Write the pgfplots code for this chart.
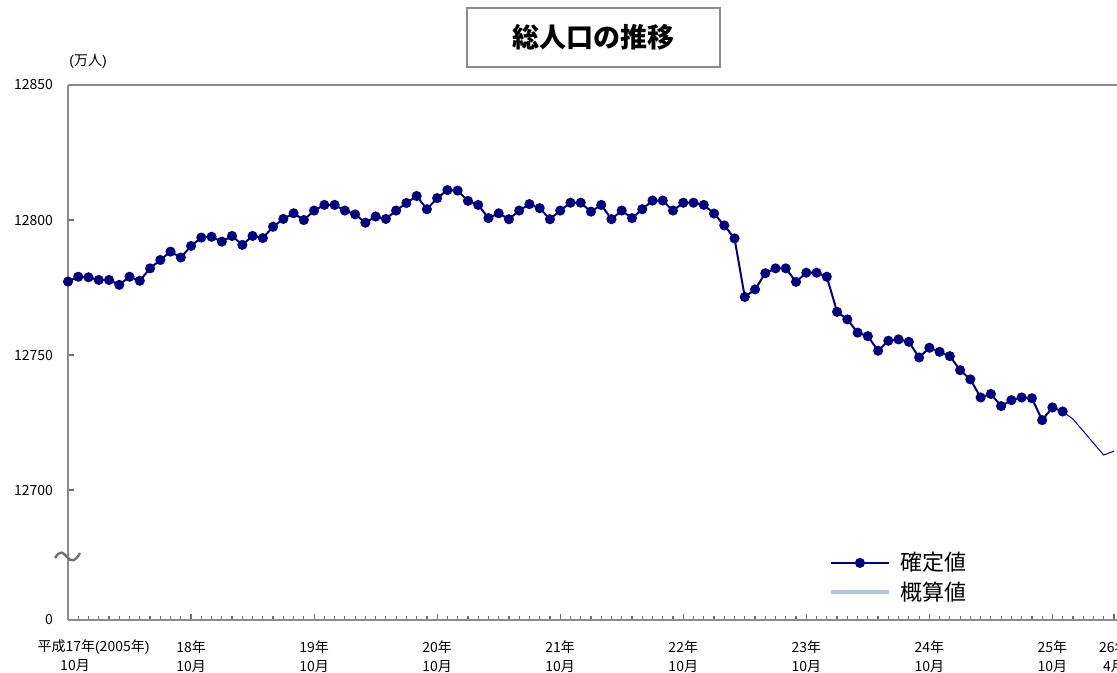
\documentclass[border=0pt]{standalone}
\usepackage{fontspec}
\setmainfont{Noto Sans CJK JP}
\newfontfamily\lib{Liberation Sans}
\usepackage{pgfplots}
\pgfplotsset{compat=1.18}
\definecolor{navyc}{RGB}{0,0,128}
\definecolor{axgray}{RGB}{140,140,140}
\definecolor{lsteel}{RGB}{180,198,220}
\pgfplotstableread{
idx val
0 12777.2
1 12779.0
2 12778.8
3 12777.8
4 12777.8
5 12776.0
6 12779.0
7 12777.5
8 12782.1
9 12785.2
10 12788.3
11 12786.1
12 12790.4
13 12793.5
14 12793.8
15 12792.0
16 12794.1
17 12790.8
18 12794.1
19 12793.3
20 12797.5
21 12800.4
22 12802.5
23 12800.0
24 12803.5
25 12805.6
26 12805.6
27 12803.5
28 12802.1
29 12799.0
30 12801.3
31 12800.4
32 12803.5
33 12806.3
34 12808.9
35 12804.0
36 12808.1
37 12811.1
38 12810.9
39 12807.1
40 12805.6
41 12800.7
42 12802.5
43 12800.3
44 12803.5
45 12805.9
46 12804.4
47 12800.3
48 12803.5
49 12806.4
50 12806.4
51 12803.1
52 12805.6
53 12800.3
54 12803.5
55 12800.7
56 12804.0
57 12807.2
58 12807.2
59 12803.5
60 12806.4
61 12806.4
62 12805.6
63 12802.4
64 12798.0
65 12793.2
66 12771.5
67 12774.3
68 12780.3
69 12782.1
70 12782.1
71 12777.1
72 12780.5
73 12780.5
74 12779.0
75 12766.0
76 12763.2
77 12758.3
78 12757.0
79 12751.6
80 12755.3
81 12755.8
82 12754.9
83 12749.1
84 12752.7
85 12751.2
86 12749.6
87 12744.4
88 12741.0
89 12734.3
90 12735.6
91 12731.1
92 12733.3
93 12734.3
94 12734.0
95 12725.9
96 12730.6
97 12729.1
}\confirmed
\pgfplotstableread{
idx val
97 12729.1
98 12726.3
99 12721.9
100 12717.4
101 12713.0
102 12714.4
}\estimated
\begin{document}
\begin{tikzpicture}[x=1pt,y=1pt]
\useasboundingbox (0,0) rectangle (558.5,336.5);
\begin{axis}[
  at={(34pt,26.5pt)}, anchor=south west,
  scale only axis, width=524.5pt, height=267.5pt,
  xmin=0, xmax=102.3, ymin=12651.9, ymax=12850,
  axis x line*=bottom, axis y line*=left,
  axis line style={axgray, line width=1pt, -},
  tick align=inside,
  tick style={axgray!80!black, line width=0.6pt},
  major tick length=3pt, minor tick length=2pt,
  scaled x ticks=false, scaled y ticks=false,
  xtick={12,24,36,48,60,72,84,96,102},
  xticklabels={{18年\\10月},{19年\\10月},{20年\\10月},{21年\\10月},{22年\\10月},{23年\\10月},{24年\\10月},{25年\\10月},{26年\\4月}},
  minor xtick={0,...,102},
  xticklabel style={align=center, font=\fontsize{7}{9.5}\selectfont, yshift=-7pt},
  ytick={12651.9,12700,12750,12800,12850},
  yticklabels={0,12700,12750,12800,12850},
  yticklabel style={font=\fontsize{7}{8}\selectfont, xshift=-4pt},
  /pgf/number format/assume math mode=true,
  clip=false,
  legend style={at={(0.725,0.135)}, anchor=north west, draw=none, fill=none,
    font=\fontsize{11}{12}\selectfont, row sep=0pt, inner sep=0pt,
    nodes={inner sep=2pt}},
  legend cell align=left,
  legend image code/.code={\draw[mark repeat=2,mark phase=2,#1] plot coordinates {(0pt,0pt) (14.5pt,0pt) (29pt,0pt)};},
]
\addplot[navyc, line width=0.5pt, forget plot] table[x=idx,y=val] {\estimated};
\addplot[navyc, line width=1pt, mark=*, mark size=2pt, mark options={solid,fill=navyc}] table[x=idx,y=val] {\confirmed};
\addlegendentry{\hspace{3pt}確定値}
\addlegendimage{lsteel, line width=2pt}
\addlegendentry{\hspace{3pt}概算値}
\draw[axgray, line width=1pt] (rel axis cs:0,1) -- (rel axis cs:1.05,1);
\end{axis}
\draw[axgray!80!black, line width=1.2pt] (27.5,57.5) .. controls (30,61.5) and (31.5,60.5) .. (33.5,58) .. controls (35.5,55.5) and (37.5,55.5) .. (40,60);
\node[draw=axgray, line width=1pt, minimum width=126.5pt, minimum height=29.5pt, font=\fontsize{13.5}{14}\selectfont\bfseries] at (296.75,317.75) {総人口の推移};
\node[font=\fontsize{7}{8}\selectfont] at (44,306) {{\lib(}万人{\lib)}};
\node[font=\fontsize{7}{9.5}\selectfont] at (46.75,13) {平成17年{\lib(}2005年{\lib)}};
\node[font=\fontsize{7}{9.5}\selectfont] at (37.5,3.5) {10月};
\end{tikzpicture}
\end{document}
